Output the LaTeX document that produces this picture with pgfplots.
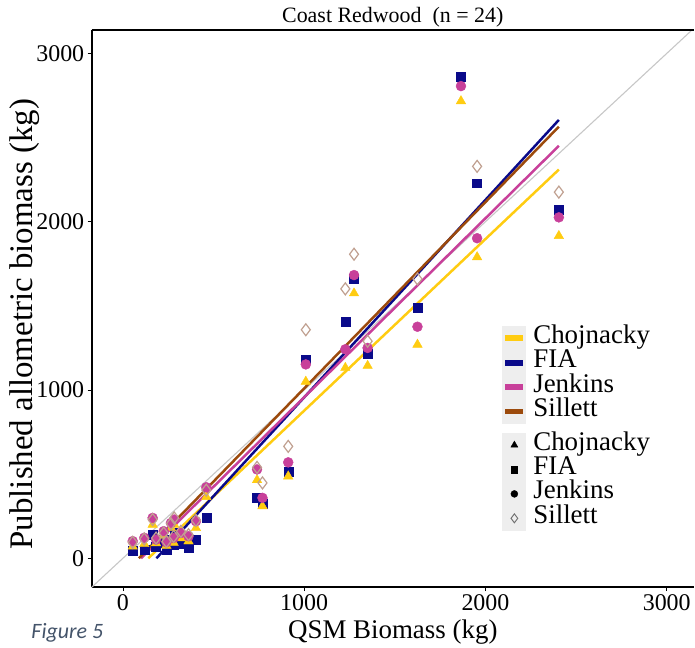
\documentclass[border=0pt]{standalone}
\usepackage{pgfplots}
\pgfplotsset{compat=1.18}
\usepackage{pgfplotstable}
\usepackage{fontspec}
\setmainfont{Liberation Serif}
\newfontfamily\capfont{Carlito}

\definecolor{chojgold}{HTML}{FFCC11}
\definecolor{fianavy}{HTML}{0A0A8A}
\definecolor{jenkmag}{HTML}{C8409A}
\definecolor{sillbrown}{HTML}{9C4A0C}
\definecolor{silltan}{HTML}{C0A090}
\definecolor{legbg}{HTML}{EEEEEE}
\definecolor{figblue}{HTML}{44546A}

% QSM biomass vs published allometric estimates, one row per tree
\pgfplotstableread{
x     C     F     J     S
54    70    43    102   95
118   85    52    122   115
164   200   141   240   230
183   90    70    111   120
225   135   92    161   150
240   75    50    95    100
265   180   110   210   205
283   200   150   230   240
280   92    80    121   130
320   120   85    150   160
362   101   62    131   140
403   180   111   220   225
460   365   244   422   405
740   465   360   528   540
770   310   325   359   448
912   487   517   570   665
1009  1050  1183  1152  1358
1227  1132  1404  1242  1601
1275  1575  1660  1683  1807
1350  1144  1217  1250  1290
1625  1270  1487  1376  1660
1865  2717  2859  2806  nan
1954  1790  2229  1902  2329
2405  1916  2073  2026  2176
}\trees

% fitted lines (end points)
\pgfplotstableread{
x     y
140   0
2405  2310
}\fitC
\pgfplotstableread{
x     y
185   0
2405  2605
}\fitF
\pgfplotstableread{
x     y
100   0
2405  2451
}\fitJ
\pgfplotstableread{
x     y
88    0
2405  2565
}\fitS

\pgfplotsset{
  legbox/.style={
    legend style={draw=none, fill=none, anchor=north west, inner sep=0pt,
      outer sep=0pt, row sep=0pt, font=\fontsize{27}{27}\selectfont,
      nodes={inner sep=0pt, text height=13pt, text depth=3pt},
      /tikz/every odd column/.append style={column sep=7pt}},
    legend cell align=left,
  },
}

\begin{document}
\begin{tikzpicture}
\begin{axis}[
  name=main, at={(0,0)}, anchor=south west,
  scale only axis, width=604pt, height=559pt,
  xmin=-172, xmax=3150, ymin=-172, ymax=3140,
  axis lines=left, axis line style={-, line width=2.2pt, black},
  xtick={0,1000,2000,3000}, ytick={0,1000,2000,3000},
  tick align=outside, major tick length=4pt,
  tick style={black, line width=0.8pt},
  tick label style={font=\fontsize{24}{24}\selectfont},
  /pgf/number format/assume math mode=true,
  /pgf/number format/1000 sep={},
  xlabel={QSM Biomass (kg)},
  xlabel style={font=\fontsize{27}{27}\selectfont,
    at={(axis description cs:0.5,0)}, anchor=base, yshift=-51pt},
  ylabel={Published allometric biomass (kg)},
  ylabel style={font=\fontsize{33}{33}\selectfont,
    at={(axis description cs:-0.111,0.472)}, anchor=center},
  title={Coast Redwood\ \ (n = 24)},
  title style={font=\fontsize{22}{22}\selectfont,
    at={(axis description cs:0.5,1)}, anchor=base, yshift=1pt},
  legbox,
  legend style={at={(0.682,0.4687)}},
  legend image code/.code={
    \path[fill=legbg, draw=none] (0pt,-12.25pt) rectangle (24pt,12.25pt);
    \draw[#1, line width=6pt] (3pt,0pt) -- (21pt,0pt);},
]
\addplot[color=black!22, line width=1.1pt, forget plot]
  coordinates {(-300,-300) (3300,3300)};

\addplot[only marks, mark=square*, mark size=4.5pt, color=fianavy, forget plot]
  table[x=x, y=F] {\trees};
\addplot[only marks, mark=triangle*, mark size=5.5pt, color=chojgold, forget plot]
  table[x=x, y=C] {\trees};
\addplot[only marks, mark=*, mark size=5pt, color=jenkmag, forget plot]
  table[x=x, y=J] {\trees};
\addplot[only marks, mark=diamond, mark size=6pt, color=silltan, line width=1.2pt,
  unbounded coords=discard, forget plot]
  table[x=x, y=S] {\trees};

\addplot[chojgold, line width=2.5pt, mark=none] table {\fitC};
\addplot[fianavy, line width=2.5pt, mark=none] table {\fitF};
\addplot[jenkmag, line width=2.5pt, mark=none] table {\fitJ};
\addplot[sillbrown, line width=2.5pt, mark=none] table {\fitS};
\legend{Chojnacky, FIA, Jenkins, Sillett}
\end{axis}

% second legend: point shapes
\begin{axis}[
  at={(0,0)}, anchor=south west,
  scale only axis, width=604pt, height=559pt,
  hide axis, xmin=0, xmax=1, ymin=0, ymax=1,
  legbox,
  legend style={at={(0.682,0.277)}},
  legend image code/.code={
    \path[fill=legbg, draw=none] (0pt,-12.25pt) rectangle (24pt,12.25pt);
    \draw[#1] plot coordinates {(12pt,0pt)};},
]
\addlegendimage{black, mark=triangle*, mark size=4pt}
\addlegendentry{Chojnacky}
\addlegendimage{black, mark=square*, mark size=3.3pt}
\addlegendentry{FIA}
\addlegendimage{black, mark=*, mark size=3.5pt}
\addlegendentry{Jenkins}
\addlegendimage{black!55, mark=diamond, mark size=4.5pt, line width=1pt}
\addlegendentry{Sillett}
\end{axis}

\draw[line width=1.6pt] (main.north west) -- (main.north east);
\node[anchor=base west, text=figblue, font=\capfont\itshape\fontsize{22}{22}\selectfont]
  at (-64pt,-51pt) {Figure 5};
\useasboundingbox (-92pt,-55pt) rectangle (603pt,589pt);
\end{tikzpicture}
\end{document}
